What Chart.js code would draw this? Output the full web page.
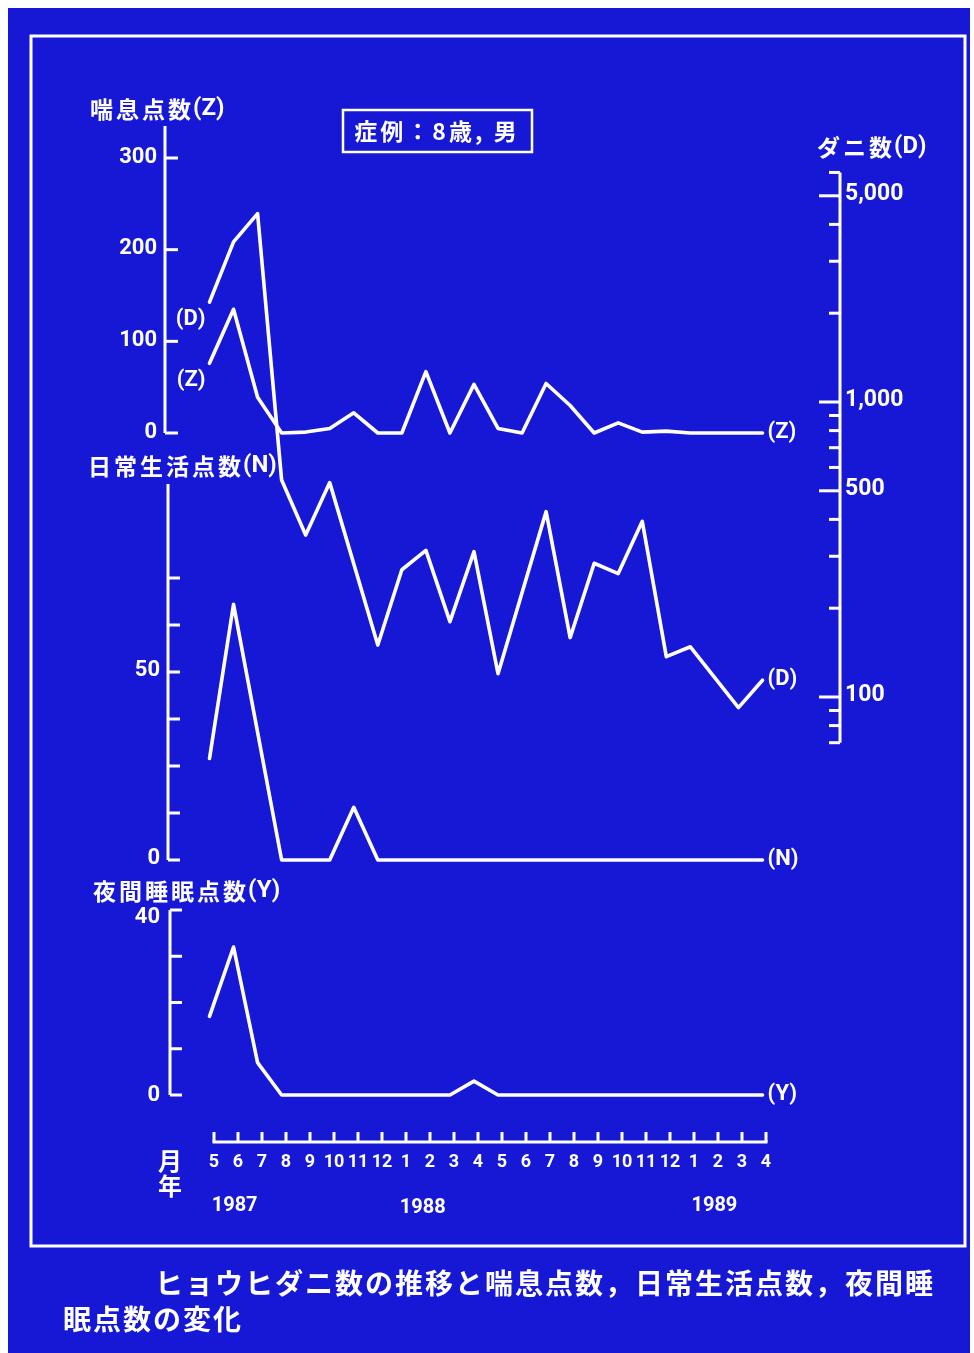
<!DOCTYPE html>
<html lang="ja">
<head>
<meta charset="utf-8">
<title>ヒョウヒダニ数の推移と喘息点数，日常生活点数，夜間睡眠点数の変化</title>
<script src="https://cdn.jsdelivr.net/npm/chart.js@4/dist/chart.umd.min.js"></script>
<style>
  html, body { margin: 0; padding: 0; background: #ffffff; }
  canvas { display: block; }
</style>
</head>
<body>
<canvas id="chart" width="974" height="1353"></canvas>
<script>
// ---- data -------------------------------------------------------------
// monthly observations, May 1987 to April 1989
const months = ['5','6','7','8','9','10','11','12','1','2','3','4','5','6','7','8','9','10','11','12','1','2','3','4'];
const years = ['1987', '1988', '1989'];
const yearSlots = [0.86, 8.7, 20.85];          // month index under which each year is written

// mite count (D), log scale; null = no reading that month
const mites  = [2180, 3490, 4350, 544, 354, 533, null, 150, 270, 314, 180, 311, 120, null, 425, 159, 284, 262, 394, 137, 148, null, 92, 114];
// wheeze score (Z)
const wheeze = [76, 135, 39, 0, 1, 5, 22, 0, 0, 67, 0, 53, 5, 0, 54, 30, 0, 11, 1, 2, 0, 0, 0, 0];
// daily-life score (N)
const daily  = [27, 68, null, 0, 0, 0, 14, 0, 0, 0, 0, 0, 0, 0, 0, 0, 0, 0, 0, 0, 0, 0, 0, 0];
// night-sleep score (Y)
const sleep  = [17, 32, 7, 0, 0, 0, 0, 0, 0, 0, 0, 3, 0, 0, 0, 0, 0, 0, 0, 0, 0, 0, 0, 0];

// axis ticks and labels
const zTicks = [0, 100, 200, 300];
const zLabels = ['0', '100', '200', '300'];
const nTicks = [0, 12.5, 25, 37.5, 50, 62.5, 75];
const nLabelValues = [0, 50];
const nLabels = ['0', '50'];
const yTicks = [0, 10, 20, 30, 40];
const yLabelValues = [0, 40];
const yLabels = ['0', '40'];
const dTicks = [70, 80, 90, 100, 200, 300, 400, 500, 600, 700, 800, 900, 1000, 2000, 3000, 4000, 5000, 6000];
const dLabelValues = [100, 500, 1000, 5000];
const dLabels = ['100', '500', '1,000', '5,000'];

// ---- layout -----------------------------------------------------------
const W = 974, H = 1353;
const AREA = { left: 150, top: 100, right: 820, bottom: 1130 };
const BG = 'rgb(22, 24, 214)';
const INK = '#ffffff';
const CJK = '"Noto Sans CJK JP", "Noto Sans CJK SC", sans-serif';
const NUM = 'Roboto, "Liberation Sans", sans-serif';

// scale limits that place value v0 at pixel p0 and v1 at pixel p1
function span(v0, p0, v1, p1, pMin, pMax) {
  const k = (v1 - v0) / (p1 - p0);
  return { min: v0 + (pMin - p0) * k, max: v0 + (pMax - p0) * k };
}
function logSpan(v0, p0, v1, p1) {
  const s = span(Math.log10(v0), p0, Math.log10(v1), p1, AREA.bottom, AREA.top);
  return { min: Math.pow(10, s.min), max: Math.pow(10, s.max) };
}
const xData = span(0, 209.5, 23, 762.5, AREA.left, AREA.right);
const xRule = span(0, 214, 23, 766, AREA.left, AREA.right);
const zSpan = span(0, 433, 300, 158, AREA.bottom, AREA.top);
const nSpan = span(0, 860, 50, 672, AREA.bottom, AREA.top);
const ySpan = span(0, 1095, 40, 910, AREA.bottom, AREA.top);
const dSpan = logSpan(100, 697, 1000, 402);

const points = arr => arr.map((v, i) => ({ x: i, y: v }));

function lineSet(label, values, axis) {
  return {
    label, data: points(values), yAxisID: axis, xAxisID: 'x',
    borderColor: INK, borderWidth: 3.6, pointRadius: 0, pointHoverRadius: 0,
    tension: 0, spanGaps: true, fill: false, clip: false,
    borderJoinStyle: 'round', borderCapStyle: 'round'
  };
}

// ---- drawing helpers --------------------------------------------------
function setSpacing(ctx, px) {
  if ('letterSpacing' in ctx) ctx.letterSpacing = px + 'px';
}
function txt(ctx, s, x, y, font, align, spacing) {
  ctx.font = font;
  ctx.textAlign = align || 'left';
  ctx.textBaseline = 'middle';
  setSpacing(ctx, spacing || 0);
  ctx.fillText(s, x, y);
  setSpacing(ctx, 0);
}
// axis heading: spaced kanji followed by a tight "(X)" tag
function heading(ctx, kanji, tag, x, y) {
  ctx.font = 'bold 23px ' + CJK;
  ctx.textAlign = 'left';
  ctx.textBaseline = 'middle';
  setSpacing(ctx, 3);
  const w = ctx.measureText(kanji).width;
  ctx.fillText(kanji, x, y);
  setSpacing(ctx, 0);
  txt(ctx, tag, x + w - 1, y, 'bold 24px ' + NUM, 'left');
}
function seg(ctx, x1, y1, x2, y2) {
  ctx.beginPath(); ctx.moveTo(x1, y1); ctx.lineTo(x2, y2); ctx.stroke();
}
// vertical axis: line at x, ticks of length len pointing in direction dir
function vAxis(ctx, sc, x, from, to, ticks, len, dir) {
  seg(ctx, x, sc.getPixelForValue(from), x, sc.getPixelForValue(to));
  ticks.forEach(t => {
    const v = typeof t === 'number' ? t : t.v;
    const l = typeof t === 'number' ? len : t.len;
    const p = sc.getPixelForValue(v);
    seg(ctx, x, p, x + dir * l, p);
  });
}
function lastPoint(arr) {
  for (let i = arr.length - 1; i >= 0; i--) if (arr[i] !== null) return i;
  return 0;
}

const decor = {
  id: 'decor',
  beforeDraw(chart) {
    const ctx = chart.ctx;
    ctx.save();
    ctx.fillStyle = '#ffffff';
    ctx.fillRect(0, 0, W, H);
    ctx.fillStyle = BG;
    ctx.fillRect(8, 8, 962, H - 8);
    ctx.strokeStyle = INK;
    ctx.lineWidth = 3;
    ctx.strokeRect(31, 36, 934, 1210);
    // case box
    ctx.lineWidth = 2.5;
    ctx.strokeRect(343, 110, 189, 42);
    ctx.fillStyle = INK;
    txt(ctx, '症例：8歳, 男', 437, 131, 'bold 23px ' + CJK, 'center', 3);
    ctx.restore();
  },
  afterDatasetsDraw(chart) {
    const ctx = chart.ctx;
    const s = chart.scales;
    ctx.save();
    ctx.strokeStyle = INK;
    ctx.fillStyle = INK;
    ctx.lineWidth = 3;
    ctx.lineCap = 'butt';

    // wheeze score axis
    vAxis(ctx, s.yZ, 165, 0, 335, zTicks, 13, 1);
    zTicks.forEach((v, i) => txt(ctx, zLabels[i], 157, s.yZ.getPixelForValue(v) - 1, 'bold 22px ' + NUM, 'right'));
    heading(ctx, '喘息点数', '(Z)', 90, 109);

    // daily-life score axis
    vAxis(ctx, s.yN, 168, 0, 100, nTicks, 12, 1);
    nLabelValues.forEach((v, i) => txt(ctx, nLabels[i], 160, s.yN.getPixelForValue(v) - 2, 'bold 22px ' + NUM, 'right'));
    heading(ctx, '日常生活点数', '(N)', 88, 466);

    // night-sleep score axis
    vAxis(ctx, s.yY, 170, 0, 40, yTicks, 12, 1);
    yLabelValues.forEach((v, i) => txt(ctx, yLabels[i], 160, s.yY.getPixelForValue(v) + (v === 40 ? 7 : 0), 'bold 22px ' + NUM, 'right'));
    heading(ctx, '夜間睡眠点数', '(Y)', 93, 891);

    // mite count axis (log)
    const dTickSpec = dTicks.map(v => ({ v, len: dLabelValues.includes(v) ? 21 : 11 }));
    vAxis(ctx, s.yD, 840, dTicks[0], dTicks[dTicks.length - 1], dTickSpec, 11, -1);
    dLabelValues.forEach((v, i) => txt(ctx, dLabels[i], 845, s.yD.getPixelForValue(v) - 2, 'bold 23px ' + NUM, 'left'));
    heading(ctx, 'ダニ数', '(D)', 817, 147);

    // month ruler
    const xm = s.xm;
    const ry = 1142;
    seg(ctx, xm.getPixelForValue(0) - 1.5, ry, xm.getPixelForValue(months.length - 1) + 1.5, ry);
    months.forEach((m, i) => {
      const px = xm.getPixelForValue(i);
      seg(ctx, px, ry, px, ry - 10);
      txt(ctx, m, px, 1162, 'bold 18px ' + NUM, 'center');
    });
    years.forEach((y, i) => txt(ctx, y, xm.getPixelForValue(yearSlots[i]), i === 1 ? 1208 : 1206, 'bold 20px ' + NUM, 'center'));
    txt(ctx, '月', 170, 1161, 'bold 24px ' + CJK, 'center');
    txt(ctx, '年', 170, 1186, 'bold 24px ' + CJK, 'center');

    // series tags
    const tagFont = 'bold 22px ' + NUM;
    const x = s.x;
    const tagEnd = (arr, sc, tag) => {
      const i = lastPoint(arr);
      txt(ctx, tag, x.getPixelForValue(i) + 5, sc.getPixelForValue(arr[i]) - 1, tagFont, 'left');
    };
    tagEnd(wheeze, s.yZ, '(Z)');
    tagEnd(mites, s.yD, '(D)');
    tagEnd(daily, s.yN, '(N)');
    tagEnd(sleep, s.yY, '(Y)');
    txt(ctx, '(D)', x.getPixelForValue(0) - 4, s.yD.getPixelForValue(mites[0]) + 17, tagFont, 'right');
    txt(ctx, '(Z)', x.getPixelForValue(0) - 4, s.yZ.getPixelForValue(wheeze[0]) + 17, tagFont, 'right');

    // caption
    txt(ctx, 'ヒョウヒダニ数の推移と喘息点数，日常生活点数，夜間睡', 155, 1283, 'bold 28px ' + CJK, 'left', 2);
    txt(ctx, '眠点数の変化', 63, 1319, 'bold 28px ' + CJK, 'left', 2);
    ctx.restore();
  }
};

const hidden = { display: false, bounds: 'data', grace: 0 };

new Chart(document.getElementById('chart'), {
  type: 'line',
  data: {
    datasets: [
      lineSet('ダニ数(D)', mites, 'yD'),
      lineSet('喘息点数(Z)', wheeze, 'yZ'),
      lineSet('日常生活点数(N)', daily, 'yN'),
      lineSet('夜間睡眠点数(Y)', sleep, 'yY')
    ]
  },
  options: {
    responsive: false,
    animation: false,
    devicePixelRatio: 1,
    events: [],
    layout: { padding: { left: AREA.left, top: AREA.top, right: W - AREA.right, bottom: H - AREA.bottom } },
    plugins: { legend: { display: false }, tooltip: { enabled: false } },
    scales: {
      x:  Object.assign({ type: 'linear', axis: 'x' }, hidden, xData),
      xm: Object.assign({ type: 'linear', axis: 'x' }, hidden, xRule),
      yZ: Object.assign({ type: 'linear', axis: 'y' }, hidden, zSpan),
      yN: Object.assign({ type: 'linear', axis: 'y' }, hidden, nSpan),
      yY: Object.assign({ type: 'linear', axis: 'y' }, hidden, ySpan),
      yD: Object.assign({ type: 'logarithmic', axis: 'y' }, hidden, dSpan)
    }
  },
  plugins: [decor]
});
</script>
</body>
</html>
